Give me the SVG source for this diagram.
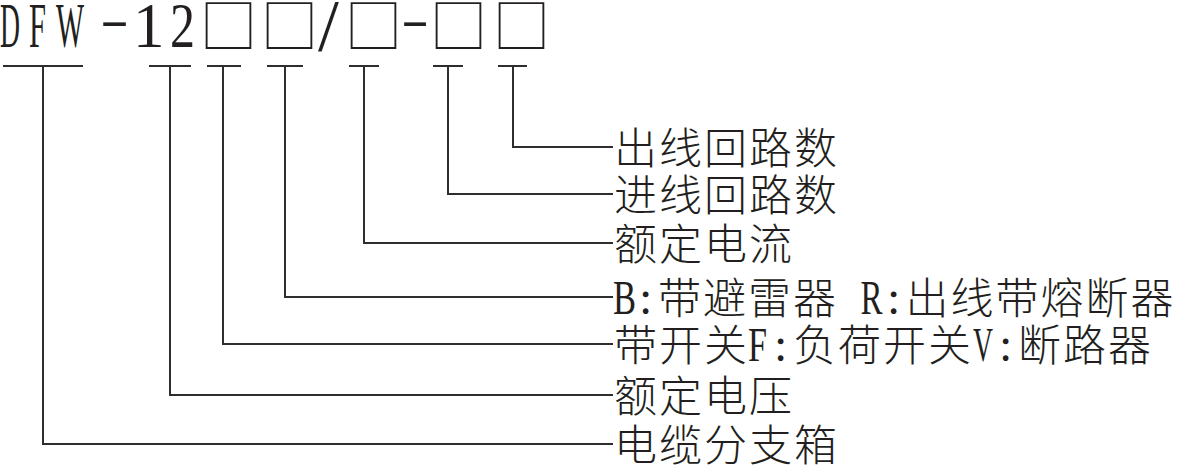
<svg xmlns="http://www.w3.org/2000/svg" width="1180" height="465" viewBox="0 0 1180 465">
<style>
.bg{fill:#ffffff}
.cjk{font-family:"Noto Sans CJK SC","Noto Sans",sans-serif;font-size:43px;font-weight:300;fill:#231f20}
.lat{font-family:"Liberation Serif",serif;font-size:48px;font-weight:400;fill:#231f20}
.tl{font-family:"Liberation Serif",serif;font-size:63px;fill:#231f20}
.box{font-family:"Noto Sans CJK SC","DejaVu Sans",sans-serif;font-size:57px;font-weight:300;fill:#231f20}
.conn{fill:none;stroke:#2e2e2e;stroke-width:2}
</style>
<rect class="bg" x="0" y="0" width="1180" height="465"/>
<g id="title">
<text y="47"><tspan class="tl" x="0" textLength="20" lengthAdjust="spacingAndGlyphs">D</tspan><tspan class="tl" x="29" textLength="17" lengthAdjust="spacingAndGlyphs">F</tspan><tspan class="tl" x="56" textLength="28" lengthAdjust="spacingAndGlyphs">W</tspan><tspan class="lat" x="100" y="36" textLength="29" lengthAdjust="spacingAndGlyphs">-</tspan><tspan class="tl" x="133" y="47">1</tspan><tspan class="tl" x="170" textLength="25" lengthAdjust="spacingAndGlyphs">2</tspan><tspan class="box" x="200" y="47">□</tspan><tspan class="box" x="261">□</tspan><tspan class="tl" x="318" y="51" style="font-size:75px">/</tspan><tspan class="box" x="345" y="47">□</tspan><tspan class="lat" x="401" y="36" textLength="28" lengthAdjust="spacingAndGlyphs">-</tspan><tspan class="box" x="430" y="47">□</tspan><tspan class="box" x="493">□</tspan></text>
</g>
<g id="connectors">
<path class="conn" d="M3 66H83M43 66V444H613"/>
<path class="conn" d="M149 66H191M170 66V395H613"/>
<path class="conn" d="M207 66H241M223 66V344H613"/>
<path class="conn" d="M267 66H303M285 66V297H613"/>
<path class="conn" d="M349 66H379M364 66V243H613"/>
<path class="conn" d="M433 66H463M448 66V194H613"/>
<path class="conn" d="M498 66H527M513 66V147H613"/>
</g>
<g id="label-outlets">
<text class="cjk" x="614 659 704 749 794" y="164">出线回路数</text>
</g>
<g id="label-inlets">
<text class="cjk" x="614 659 704 749 794" y="211">进线回路数</text>
</g>
<g id="label-current">
<text class="cjk" x="614 659 704 749" y="260">额定电流</text>
</g>
<g id="label-protection">
<text class="cjk" y="314"><tspan class="lat" x="613" textLength="23" lengthAdjust="spacingAndGlyphs">B</tspan><tspan class="lat" x="639">:</tspan><tspan x="658 703 748 793">带避雷器</tspan><tspan x="838"> </tspan><tspan class="lat" x="860.5" textLength="22" lengthAdjust="spacingAndGlyphs">R</tspan><tspan class="lat" x="887">:</tspan><tspan x="905.5 950.5 995.5 1040.5 1085.5 1130.5">出线带熔断器</tspan></text>
</g>
<g id="label-switch">
<text class="cjk" y="361"><tspan x="614 659 704">带开关</tspan><tspan class="lat" x="748" textLength="19" lengthAdjust="spacingAndGlyphs">F</tspan><tspan class="lat" x="774">:</tspan><tspan x="793 838 883 928">负荷开关</tspan><tspan class="lat" x="973" textLength="20" lengthAdjust="spacingAndGlyphs">V</tspan><tspan class="lat" x="999">:</tspan><tspan x="1018 1063 1108">断路器</tspan></text>
</g>
<g id="label-voltage">
<text class="cjk" x="614 659 704 749" y="412">额定电压</text>
</g>
<g id="label-cabinet">
<text class="cjk" x="614 659 704 749 794" y="461">电缆分支箱</text>
</g>
</svg>
